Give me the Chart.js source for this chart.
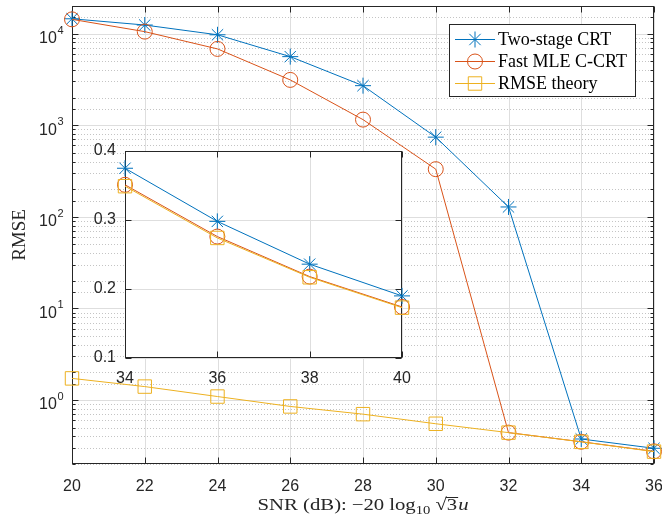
<!DOCTYPE html>
<html><head><meta charset="utf-8">
<script src="https://cdn.jsdelivr.net/npm/chart.js@4.4.1/dist/chart.umd.min.js"></script>
<style>
html,body{margin:0;padding:0;background:#fff;}
#wrap{position:relative;width:662px;height:521px;overflow:hidden;}
#main{position:absolute;left:0;top:0;}
#inset{position:absolute;left:80px;top:140px;}
</style></head><body>
<div id="wrap"><canvas id="main" width="662" height="521"></canvas><canvas id="inset" width="340" height="250"></canvas></div>
<script>
// ---- data ----
const snr = [20, 22, 24, 26, 28, 30, 32, 34, 36];
const twoStageCRT = [14500, 12400, 9700, 5600, 2700, 740, 128, 0.375, 0.297];
const fastMLE = [14300, 10500, 6800, 3120, 1150, 331, 0.44, 0.35, 0.275];
const rmseTheory = [1.72, 1.40, 1.09, 0.85, 0.70, 0.55, 0.44, 0.349, 0.273];

const insetSnr = [34, 36, 38, 40];
const insetTwoStage = [0.375, 0.298, 0.236, 0.19];
const insetFastMLE = [0.351, 0.276, 0.218, 0.174];
const insetTheory = [0.349, 0.274, 0.217, 0.173];

const seriesNames = ['Two-stage CRT', 'Fast MLE C-CRT', 'RMSE theory'];
const yDecades = [0, 1, 2, 3, 4];
const xLabelText = 'SNR (dB):';
const yLabelText = 'RMSE';

const COLORS = ['#0072BD', '#D95319', '#EDB120'];
const STYLES = ['star', 'circle', 'rect'];
const RADII = [8, 7.5, 9.5];
const AXC = '#262626';
const GRID = '#dedede';
const MINOR = '#c4c4c4';
const SANS = '"Liberation Sans", Arial, sans-serif';
const SERIF = '"Liberation Serif", "Times New Roman", serif';

function pts(xs, ys) { return xs.map((x, i) => ({x, y: ys[i]})); }
function ds(i, xs, ys) {
  return {
    label: seriesNames[i], data: pts(xs, ys), borderColor: COLORS[i],
    backgroundColor: 'rgba(0,0,0,0)', borderWidth: 1, pointStyle: STYLES[i],
    pointRadius: RADII[i], pointHoverRadius: RADII[i], pointBorderWidth: 1,
    pointBorderColor: COLORS[i], pointBackgroundColor: 'rgba(0,0,0,0)',
    tension: 0, clip: false, order: 2 - i
  };
}

const framePlugin = {
  id: 'frame',
  beforeDatasetsDraw(chart, args, o) {
    const {ctx, chartArea: a, scales: {x, y}} = chart;
    ctx.save();
    if (o.fill) { ctx.fillStyle = '#fff'; ctx.fillRect(a.left, a.top, a.width, a.height); }
    ctx.lineWidth = 1;
    if (o.log) {
      ctx.strokeStyle = MINOR; ctx.setLineDash([1, 2]);
      y.ticks.forEach(t => {
        const l = Math.log10(t.value);
        if (Math.abs(l - Math.round(l)) < 1e-9) return;
        const py = Math.round(y.getPixelForValue(t.value)) + 0.5;
        ctx.beginPath(); ctx.moveTo(a.left, py); ctx.lineTo(a.right, py); ctx.stroke();
      });
      ctx.setLineDash([]);
    }
    ctx.strokeStyle = GRID;
    x.ticks.forEach(t => {
      const px = Math.round(x.getPixelForValue(t.value)) + 0.5;
      ctx.beginPath(); ctx.moveTo(px, a.top); ctx.lineTo(px, a.bottom); ctx.stroke();
    });
    const majorY = o.log ? yDecades.map(e => Math.pow(10, e)) : y.ticks.map(t => t.value);
    majorY.forEach(v => {
      const py = Math.round(y.getPixelForValue(v)) + 0.5;
      ctx.beginPath(); ctx.moveTo(a.left, py); ctx.lineTo(a.right, py); ctx.stroke();
    });
    ctx.strokeStyle = AXC;
    const L = Math.round(a.left) + 0.5, R = Math.round(a.right) - 0.5, T = Math.round(a.top) + 0.5, B = Math.round(a.bottom) - 0.5;
    ctx.strokeRect(L, T, R - L, B - T);
    const tl = 6, ml = 3;
    ctx.beginPath();
    x.ticks.forEach(t => {
      const px = Math.round(x.getPixelForValue(t.value)) + 0.5;
      ctx.moveTo(px, B); ctx.lineTo(px, B - tl);
      ctx.moveTo(px, T); ctx.lineTo(px, T + tl);
    });
    y.ticks.forEach(t => {
      let len = tl;
      if (o.log) { const l = Math.log10(t.value); if (Math.abs(l - Math.round(l)) > 1e-9) len = ml; }
      const py = Math.round(y.getPixelForValue(t.value)) + 0.5;
      ctx.moveTo(L, py); ctx.lineTo(L + len, py);
      ctx.moveTo(R, py); ctx.lineTo(R - len, py);
    });
    ctx.stroke();
    ctx.restore();
  },
  afterDraw(chart, args, o) {
    if (!o.main) return;
    const {ctx, chartArea: a, scales: {y}} = chart;
    ctx.save();
    ctx.fillStyle = AXC;
    yDecades.forEach(e => {
      const py = y.getPixelForValue(Math.pow(10, e));
      ctx.font = '16px ' + SANS;
      const wb = ctx.measureText('10').width;
      ctx.font = '11px ' + SANS;
      const we = ctx.measureText(String(e)).width;
      const x0 = 63 - we - wb;
      ctx.textBaseline = 'middle'; ctx.textAlign = 'left';
      ctx.font = '16px ' + SANS; ctx.fillText('10', x0, py + 5);
      ctx.font = '11px ' + SANS; ctx.fillText(String(e), x0 + wb + 0.5, py - 3);
    });
    // y title
    ctx.save();
    ctx.translate(20, (a.top + a.bottom) / 2);
    ctx.rotate(-Math.PI / 2);
    ctx.font = '19px ' + SERIF; ctx.textAlign = 'center'; ctx.textBaseline = 'middle';
    ctx.fillText(yLabelText, 0, 0);
    ctx.restore();
    // x title (LaTeX-like, horizontally stretched serif)
    const S = 1.22;
    const F = '17px ' + SERIF, Fs = '12px ' + SERIF, Fi = 'italic 17px ' + SERIF;
    const parts = [
      {t: xLabelText, f: F}, {gap: 5}, {t: '\u2212', f: F}, {t: '20', f: F}, {gap: 5}, {t: 'log', f: F},
      {t: '10', f: Fs, dy: 4}, {gap: 5}, {t: '\u221A', f: F}, {t: '3', f: F, over: true}, {gap: 1}, {t: 'u', f: Fi}
    ];
    let tot = 0;
    parts.forEach(p => { if (p.gap) { p.w = p.gap; } else { ctx.font = p.f; p.w = ctx.measureText(p.t).width * S; } tot += p.w; });
    let cx = (a.left + a.right) / 2 - tot / 2;
    const by = 510;
    ctx.textBaseline = 'alphabetic'; ctx.textAlign = 'left';
    parts.forEach(p => {
      if (!p.gap) {
        ctx.save();
        ctx.translate(cx, by + (p.dy || 0));
        ctx.scale(S, 1);
        ctx.font = p.f; ctx.fillText(p.t, 0, 0);
        ctx.restore();
        if (p.over) { ctx.fillRect(cx - 1, by - 13, p.w + 2, 1); }
      }
      cx += p.w;
    });
    // legend
    const lx = 449.5, ly = 24.5, lw = 186, lh = 72;
    ctx.fillStyle = '#fff'; ctx.fillRect(lx, ly, lw, lh);
    ctx.strokeStyle = AXC; ctx.lineWidth = 1; ctx.strokeRect(lx, ly, lw, lh);
    const rows = [39.5, 61.5, 83.5];
    seriesNames.forEach((n, i) => {
      const yy = rows[i];
      ctx.strokeStyle = COLORS[i]; ctx.lineWidth = 1;
      ctx.beginPath(); ctx.moveTo(455, yy); ctx.lineTo(495, yy); ctx.stroke();
      ctx.fillStyle = 'rgba(0,0,0,0)';
      Chart.helpers.drawPoint(ctx, {pointStyle: STYLES[i], radius: RADII[i], borderWidth: 1}, 475, yy);
      ctx.fillStyle = '#000'; ctx.font = '18px ' + SERIF; ctx.textBaseline = 'middle';
      ctx.fillText(n, 498, yy + 1);
    });
    ctx.restore();
  }
};

new Chart(document.getElementById('main'), {
  type: 'line',
  data: {datasets: [ds(0, snr, twoStageCRT), ds(1, snr, fastMLE), ds(2, snr, rmseTheory)]},
  options: {
    responsive: false, animation: false, events: [],
    layout: {autoPadding: false, padding: {left: 0, right: 8, top: 6, bottom: 0}},
    plugins: {legend: {display: false}, tooltip: {enabled: false}, frame: {main: true, log: true, fill: false}},
    scales: {
      x: {type: 'linear', min: 20, max: 36,
        ticks: {stepSize: 2, color: AXC, font: {family: SANS, size: 16}, padding: 13, maxRotation: 0, autoSkip: false},
        grid: {display: false, drawTicks: false}, border: {display: false},
        afterFit(s) { s.height = 57; s.paddingLeft = 0; s.paddingRight = 0; }},
      y: {type: 'logarithmic', min: 0.2, max: 20000,
        ticks: {display: false, autoSkip: false},
        grid: {display: false, drawTicks: false}, border: {display: false},
        afterFit(s) { s.width = 72; s.paddingTop = 0; s.paddingBottom = 0; }}
    }
  },
  plugins: [framePlugin]
});

new Chart(document.getElementById('inset'), {
  type: 'line',
  data: {datasets: [ds(0, insetSnr, insetTwoStage), ds(1, insetSnr, insetFastMLE), ds(2, insetSnr, insetTheory)]},
  options: {
    responsive: false, animation: false, events: [],
    layout: {autoPadding: false, padding: {left: 0, right: 18, top: 11, bottom: 0}},
    plugins: {legend: {display: false}, tooltip: {enabled: false}, frame: {main: false, log: false, fill: true}},
    scales: {
      x: {type: 'linear', min: 34, max: 40,
        ticks: {stepSize: 2, color: AXC, font: {family: SANS, size: 16}, padding: 11, maxRotation: 0, autoSkip: false},
        grid: {display: false, drawTicks: false}, border: {display: false},
        afterFit(s) { s.height = 32; s.paddingLeft = 0; s.paddingRight = 0; }},
      y: {type: 'linear', min: 0.1, max: 0.4,
        ticks: {stepSize: 0.1, color: AXC, font: {family: SANS, size: 16}, padding: 9, autoSkip: false,
          callback: v => v.toFixed(1)},
        grid: {display: false, drawTicks: false}, border: {display: false},
        afterFit(s) { s.width = 45; s.paddingTop = 0; s.paddingBottom = 0; }}
    }
  },
  plugins: [framePlugin]
});
</script>
</body></html>
